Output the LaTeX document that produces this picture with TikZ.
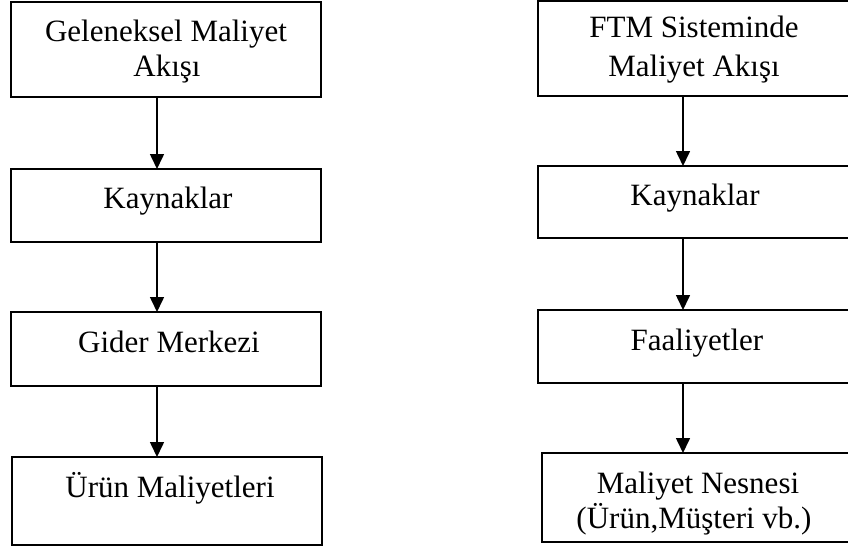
\documentclass[tikz,border=0pt]{standalone}
\usepackage{fontspec}
\setmainfont{Liberation Serif}
\usetikzlibrary{arrows.meta}
\begin{document}
\begin{tikzpicture}[x=1pt,y=-1pt,
  box/.style={draw, line width=2pt, inner sep=0pt, outer sep=0pt},
  lbl/.style={font=\fontsize{31}{35}\selectfont, inner sep=0pt, anchor=base},
  flow/.style={line width=1.6pt, -{Triangle[width=14pt,length=15pt]}}]
\useasboundingbox (0,0) rectangle (848,559);

% arrow columns
\coordinate (lx) at (157,0);
\coordinate (rx) at (683,0);

% traditional cost flow (left column)
\node[box, minimum width=310pt, minimum height=95pt] (l1) at (166,49.5) {};
\node[box, minimum width=310pt, minimum height=73pt] (l2) at (166,205.5) {};
\node[box, minimum width=310pt, minimum height=74pt] (l3) at (166,349) {};
\node[box, minimum width=310pt, minimum height=88pt] (l4) at (167,501) {};

\node[lbl] (l1a) at (166,42) {Geleneksel Maliyet};
\node[lbl] (l1b) at (167,77) {Akışı};
\node[lbl] (l2a) at (168,208) {Kaynaklar};
\node[lbl] (l3a) at (169,352) {Gider Merkezi};
\node[lbl] (l4a) at (170,497) {Ürün Maliyetleri};

% activity-based cost flow (right column)
\node[box, minimum width=314pt, minimum height=95pt] (r1) at (695,48.5) {};
\node[box, minimum width=314pt, minimum height=72pt] (r2) at (695,202) {};
\node[box, minimum width=314pt, minimum height=73pt] (r3) at (695,346.5) {};
\node[box, minimum width=310pt, minimum height=89pt] (r4) at (697,497.5) {};

\node[lbl] (r1a) at (694,38) {FTM Sisteminde};
\node[lbl] (r1b) at (694,77) {Maliyet Akışı};
\node[lbl] (r2a) at (695,205) {Kaynaklar};
\node[lbl] (r3a) at (697,350) {Faaliyetler};
\node[lbl] (r4a) at (698,493) {Maliyet Nesnesi};
\node[lbl] (r4b) at (694,528) {(Ürün,Müşteri vb.)};

% connectors
\draw[flow] (l1.south -| lx) -- (l2.north -| lx);
\draw[flow] (l2.south -| lx) -- (l3.north -| lx);
\draw[flow] (l3.south -| lx) -- (l4.north -| lx);
\draw[flow] (r1.south -| rx) -- (r2.north -| rx);
\draw[flow] (r2.south -| rx) -- (r3.north -| rx);
\draw[flow] (r3.south -| rx) -- (r4.north -| rx);
\end{tikzpicture}
\end{document}
